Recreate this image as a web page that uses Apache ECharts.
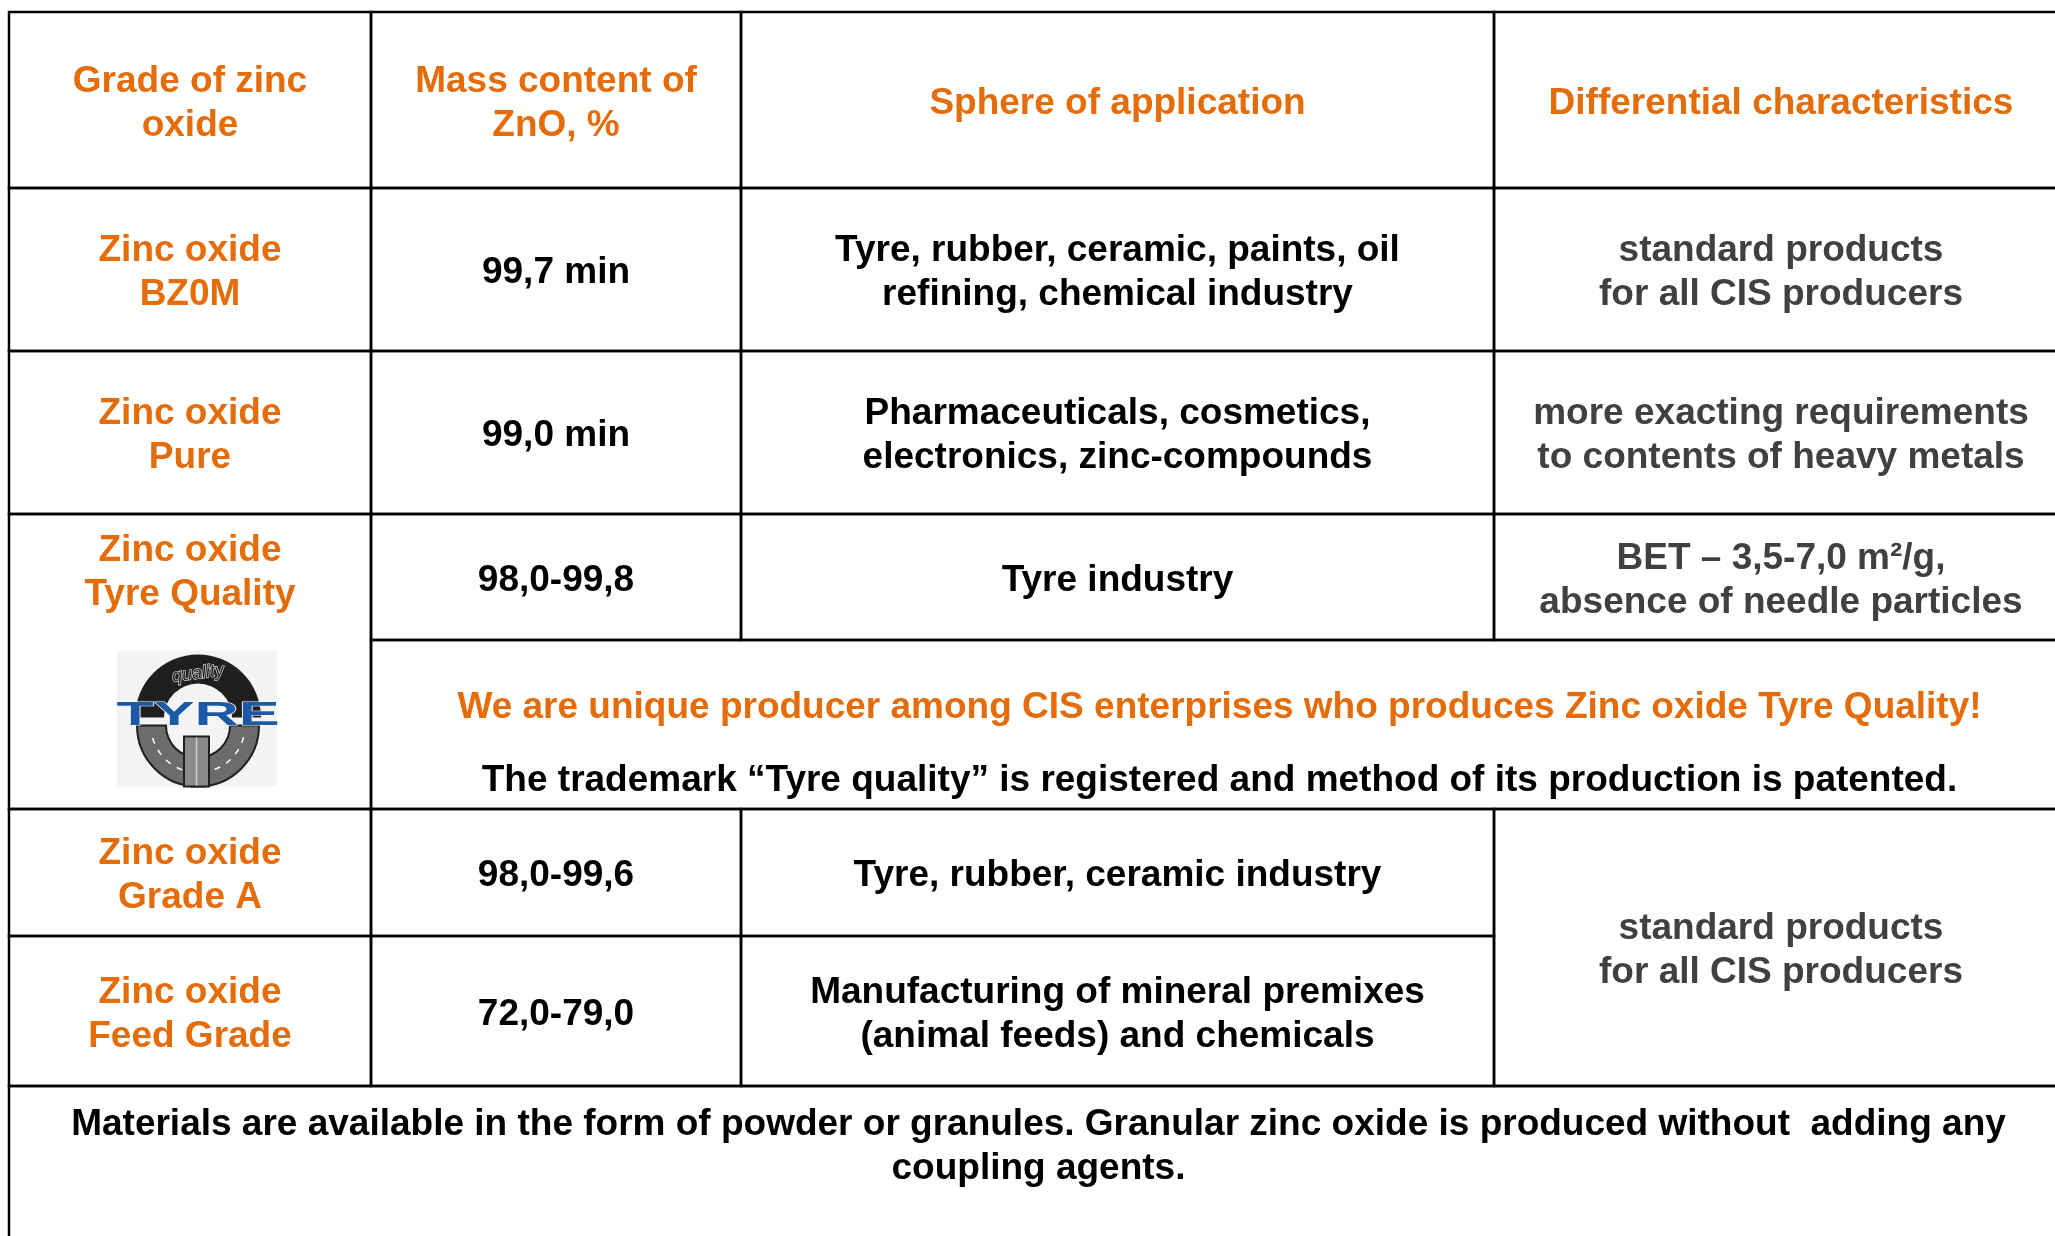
<!DOCTYPE html>
<html>
<head>
<meta charset="utf-8">
<script src="https://cdn.jsdelivr.net/npm/echarts@6/dist/echarts.min.js"></script>
<style>
  html, body { margin: 0; padding: 0; background: #fff; }
  #chart { width: 2055px; height: 1236px; }
</style>
</head>
<body>
<div id="chart"></div>
<script>
// table content
const headers = ["Grade of zinc\noxide", "Mass content of\nZnO, %", "Sphere of application", "Differential characteristics"];
const grades = ["Zinc oxide\nBZ0M", "Zinc oxide\nPure", "Zinc oxide\nTyre Quality", "Zinc oxide\nGrade A", "Zinc oxide\nFeed Grade"];
const massContent = ["99,7 min", "99,0 min", "98,0-99,8", "98,0-99,6", "72,0-79,0"];
const spheres = [
    "Tyre, rubber, ceramic, paints, oil\nrefining, chemical industry",
    "Pharmaceuticals, cosmetics,\nelectronics, zinc-compounds",
    "Tyre industry",
    "Tyre, rubber, ceramic industry",
    "Manufacturing of mineral premixes\n(animal feeds) and chemicals"
];
const characteristics = [
    "standard products\nfor all CIS producers",
    "more exacting requirements\nto contents of heavy metals",
    "BET – 3,5-7,0 m²/g,\nabsence of needle particles",
    "standard products\nfor all CIS producers"
];
const notice = "We are unique producer among CIS enterprises who produces Zinc oxide Tyre Quality!";
const trademark = "The trademark “Tyre quality” is registered and method of its production is patented.";
const footer = "Materials are available in the form of powder or granules. Granular zinc oxide is produced without  adding any\ncoupling agents.";

// layout (table units = pixels of the slide)
const COL = [9, 371, 741, 1494, 2068];
const ROW = [12, 188, 351, 514, 640, 809, 936, 1086, 1250];

const ORANGE = "#E46C0A";
const BLACK = "#000000";
const GRAY = "#404040";
const FONT = '"Liberation Sans", Arial, sans-serif';
const TEXT_SHIFT = 3.5;

const cells = [];
function cell(c0, c1, r0, r1, labels, logo) {
    cells.push({c0: c0, c1: c1, r0: r0, r1: r1, labels: labels, logo: !!logo});
}

headers.forEach((t, i) => cell(i, i + 1, 0, 1, [{text: t, color: ORANGE}]));

// rows BZ0M and Pure
[0, 1].forEach(k => {
    cell(0, 1, k + 1, k + 2, [{text: grades[k], color: ORANGE}]);
    cell(1, 2, k + 1, k + 2, [{text: massContent[k], color: BLACK}]);
    cell(2, 3, k + 1, k + 2, [{text: spheres[k], color: BLACK}]);
    cell(3, 4, k + 1, k + 2, [{text: characteristics[k], color: GRAY}]);
});

// Tyre Quality
cell(0, 1, 3, 5, [{text: grades[2], color: ORANGE, at: 0.186}], true);
cell(1, 2, 3, 4, [{text: massContent[2], color: BLACK}]);
cell(2, 3, 3, 4, [{text: spheres[2], color: BLACK}]);
cell(3, 4, 3, 4, [{text: characteristics[2], color: GRAY}]);
cell(1, 4, 4, 5, [{text: notice, color: ORANGE, at: 0.38}, {text: trademark, color: BLACK, at: 0.81}]);

// Grade A and Feed Grade
[3, 4].forEach((k, j) => {
    cell(0, 1, 5 + j, 6 + j, [{text: grades[k], color: ORANGE}]);
    cell(1, 2, 5 + j, 6 + j, [{text: massContent[k], color: BLACK}]);
    cell(2, 3, 5 + j, 6 + j, [{text: spheres[k], color: BLACK}]);
});
cell(3, 4, 5, 7, [{text: characteristics[3], color: GRAY}]);

// footer
cell(0, 4, 7, 8, [{text: footer, color: BLACK, at: 0.348}]);

function logoShapes(cx, cy) {
    return [
        {type: "rect", shape: {x: cx - 81, y: cy - 67, width: 160, height: 136}, style: {fill: "#f4f4f4"}},
        {type: "sector", shape: {cx: cx, cy: cy, r: 63, r0: 34, startAngle: Math.PI, endAngle: Math.PI * 2},
            style: {fill: "#1f1f1f"}},
        {type: "text", x: cx, y: cy - 44, rotation: 0.12,
            style: {text: "quality", x: 0, y: 0, align: "center", verticalAlign: "middle",
                font: "italic 18px " + FONT, fill: "#1f1f1f", stroke: "#e6e6e6", lineWidth: 1.2}},
        {type: "sector", shape: {cx: cx, cy: cy + 8, r: 61, r0: 32, startAngle: 0, endAngle: Math.PI},
            style: {fill: "#6c6c6c", stroke: "#1f1f1f", lineWidth: 2}},
        {type: "arc", shape: {cx: cx, cy: cy + 8, r: 47, startAngle: 0.25, endAngle: Math.PI - 0.25},
            style: {stroke: "#ffffff", lineWidth: 1.5, lineDash: [6, 7], fill: null}},
        {type: "rect", shape: {x: cx - 14, y: cy + 19, width: 25, height: 50},
            style: {fill: "#8a8a8a", stroke: "#1f1f1f", lineWidth: 2}},
        {type: "line", shape: {x1: cx - 1.5, y1: cy + 20, x2: cx - 1.5, y2: cy + 68},
            style: {stroke: "#d0d0d0", lineWidth: 1.5}},
        {type: "text", x: cx, y: cy - 2, scaleX: 1.8,
            style: {text: "TYRE", x: 0, y: 0, align: "center", verticalAlign: "middle",
                font: "bold 34px " + FONT, fill: "#1d5aa6", stroke: "#ffffff", lineWidth: 1}}
    ];
}

function renderItem(params, api) {
    const c = cells[params.dataIndex];
    const p0 = api.coord([COL[c.c0], ROW[c.r0]]);
    const p1 = api.coord([COL[c.c1], ROW[c.r1]]);
    const x = p0[0], y = p0[1], w = p1[0] - p0[0], h = p1[1] - p0[1];
    const children = [{
        type: "rect",
        shape: {x: x, y: y, width: w, height: h},
        style: {fill: "transparent", stroke: "#000", lineWidth: 2.5}
    }];
    c.labels.forEach(l => {
        children.push({
            type: "text",
            style: {
                text: l.text, x: x + w / 2, y: y + h * (l.at == null ? 0.5 : l.at) + TEXT_SHIFT,
                align: "center", verticalAlign: "middle",
                font: "bold 37px " + FONT, lineHeight: 44, fill: l.color
            }
        });
    });
    if (c.logo) {
        logoShapes(x + w / 2 + 8, y + h * 0.69).forEach(s => children.push(s));
    }
    return {type: "group", children: children};
}

const chart = echarts.init(document.getElementById("chart"));
chart.setOption({
    animation: false,
    backgroundColor: "#ffffff",
    grid: {left: 0, right: 0, top: 0, bottom: 0},
    xAxis: {type: "value", min: 0, max: 2055, show: false},
    yAxis: {type: "value", min: 0, max: 1236, inverse: true, show: false},
    series: [{
        type: "custom",
        clip: false,
        renderItem: renderItem,
        data: cells.map((c, i) => [COL[c.c0], ROW[c.r0], i])
    }]
});
</script>
</body>
</html>
